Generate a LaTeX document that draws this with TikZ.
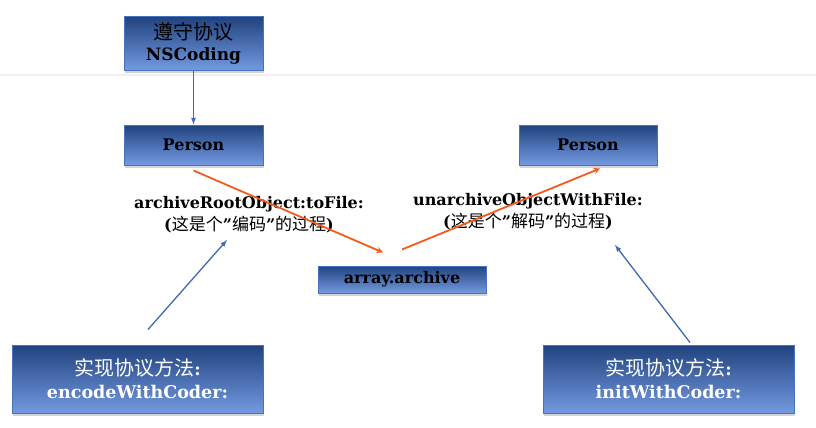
\documentclass[tikz,border=0pt]{standalone}
\usepackage{fontspec}
\setmainfont{DejaVu Serif}
\newfontfamily\cjk{Noto Sans CJK SC}
\usepackage{tikz}
\usetikzlibrary{calc,shadows,arrows}

\definecolor{boxtop}{HTML}{21437F}
\definecolor{boxbot}{HTML}{7399E0}
\definecolor{boxline}{HTML}{4673C0}
\definecolor{archline}{HTML}{F25B1C}
\definecolor{bluearrow}{HTML}{3F6AB0}

\begin{document}
\begin{tikzpicture}[
  x=1pt,
  y=-1pt
]

  \tikzstyle{classnode}=[draw=boxline,rectangle,top color=boxtop,bottom color=boxbot,line width=1pt,inner sep=1mm,align=center,
    drop shadow={opacity=0.35,shadow xshift=1pt,shadow yshift=-2.5pt}]
  \tikzstyle{protonode}=[classnode,font=\fontsize{17}{21}\selectfont\bfseries]
  \tikzstyle{methodnode}=[classnode,text=white,font=\fontsize{17.5}{23}\selectfont\bfseries]
  \tikzstyle{labnode}=[align=center,font=\fontsize{16}{22}\selectfont\bfseries]

  \tikzstyle{pointer}=[draw=bluearrow,line width=1.3pt,-latex]
  \tikzstyle{archptr}=[draw=archline,line width=1.8pt,-stealth]

  \useasboundingbox (0,0) rectangle (816,428);
  \draw[black!6,line width=1.5pt] (0,75) -- (816,75);

  % nodes
  \node[protonode,minimum width=139pt,minimum height=53pt] (coding) at (193.5,43.5)
    {{\cjk\mdseries\fontsize{20}{22}\selectfont 遵守协议}\\NSCoding};
  \node[protonode,minimum width=139pt,minimum height=40pt,font=\fontsize{16}{18}\selectfont\bfseries] (personL) at (193.5,145) {Person};
  \node[protonode,minimum width=138pt,minimum height=40pt,font=\fontsize{16}{18}\selectfont\bfseries] (personR) at (588,145) {Person};
  \node[protonode,minimum width=168pt,minimum height=27pt,font=\fontsize{16}{18}\selectfont\bfseries] (archive) at (402,279.5) {array.archive};

  \node[methodnode,minimum width=251pt,minimum height=68pt] (encoder) at (137.5,379)
    {{\cjk\mdseries\fontsize{20}{22}\selectfont 实现协议方法}:\\encodeWithCoder:};
  \node[methodnode,minimum width=251pt,minimum height=68pt] (decoder) at (668.5,379)
    {{\cjk\mdseries\fontsize{20}{22}\selectfont 实现协议方法}:\\initWithCoder:};

  \node[labnode] (encLab) at (249,215)
    {archiveRootObject:toFile:\\({\cjk\mdseries\fontsize{17}{22}\selectfont 这是个}”{\cjk\mdseries\fontsize{17}{22}\selectfont 编码}”{\cjk\mdseries\fontsize{17}{22}\selectfont 的过程})};
  \node[labnode] (decLab) at (528,212)
    {unarchiveObjectWithFile:\\({\cjk\mdseries\fontsize{17}{22}\selectfont 这是个}”{\cjk\mdseries\fontsize{17}{22}\selectfont 解码}”{\cjk\mdseries\fontsize{17}{22}\selectfont 的过程})};

  \coordinate (encTip) at (227,240);
  \coordinate (decTip) at (615,245);

  % pointers
  \draw[pointer] (coding.south) -- (personL.north);

  \draw[archptr] ([yshift=-5pt]personL.south) -- ([xshift=-19pt,yshift=13pt]archive.north);
  \draw[archptr] ([yshift=16pt]archive.north) -- ([xshift=12pt,yshift=-3pt]personR.south);

  \draw[pointer] ([xshift=10.5pt,yshift=15pt]encoder.north) -- (encTip);
  \draw[pointer] ([xshift=21.5pt,yshift=2pt]decoder.north) -- (decTip);

\end{tikzpicture}
\end{document}
